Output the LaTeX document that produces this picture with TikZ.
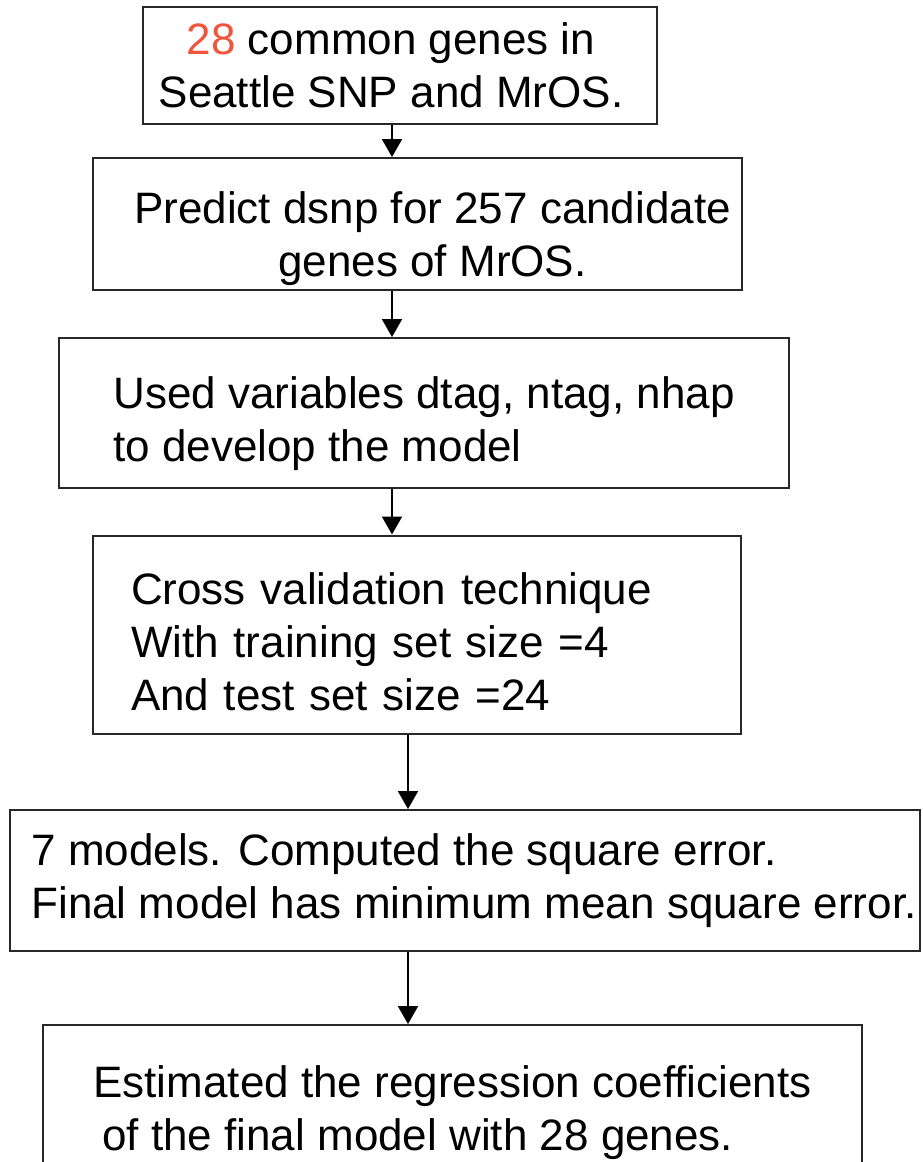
\documentclass[tikz,border=0pt]{standalone}
\usepackage{fontspec}
\setmainfont{Liberation Sans}
\usepackage{xcolor}
\usepackage{tikz}
\usetikzlibrary{arrows.meta,positioning,calc}
\definecolor{boxline}{RGB}{40, 40, 40}
\definecolor{countred}{RGB}{240, 84, 58}

\begin{document}
\begin{tikzpicture}[x=0.5pt,y=-0.5pt,
    stage/.style={draw=boxline,line width=1pt,inner sep=0pt,font=\fontsize{22}{26.5}\selectfont},
    flow/.style={-{Triangle[length=9pt,width=10pt]},line width=1pt,black}]
    \useasboundingbox (0,0) rectangle (922,1162);

    % Spines for the connectors
    \coordinate (upper) at (392,0);
    \coordinate (lower) at (408,0);

    % Stages of the analysis
    \node[stage,align=center,minimum width=257pt,minimum height=58.5pt] (seed) at (400,65.5)
        {\textcolor{countred}{28} common genes in\hspace*{9pt}\\Seattle SNP and MrOS.\hspace*{9pt}};
    \node[stage,align=center,minimum width=324.5pt,minimum height=66pt] (predict) at (417.5,224)
        {\rule{0pt}{31pt}\hspace*{15pt}Predict dsnp for 257 candidate\\\hspace*{15pt}genes of MrOS.};
    \node[stage,align=left,minimum width=365pt,minimum height=75pt] (vars) at (424,413)
        {\rule{0pt}{27pt}Used variables dtag, ntag, nhap\\to develop the model};
    \node[stage,align=left,text width=286pt,minimum width=324pt,minimum height=99pt] (crossval) at (417,634.5)
        {\rule{0pt}{23pt}Cross validation technique\\With training set size =4\\And test set size =24};
    \node[stage,align=left,minimum width=455pt,minimum height=70.5pt] (models) at (465,880.5)
        {\hspace*{9pt}7 models. Computed the square error.\\\hspace*{9pt}Final model has minimum mean square error.};
    \node[stage,align=left,minimum width=409.5pt,minimum height=83pt] (coeffs) at (452.5,1108)
        {\rule{0pt}{21pt}Estimated the regression coefficients\\\hspace{0.2em}of the final model with 28 genes.};

    % Connectors
    \draw[flow] (seed.south -| upper) -- (predict.north -| upper);
    \draw[flow] (predict.south -| upper) -- (vars.north -| upper);
    \draw[flow] (vars.south -| upper) -- (crossval.north -| upper);
    \draw[flow] (crossval.south -| lower) -- (models.north -| lower);
    \draw[flow] (models.south -| lower) -- (coeffs.north -| lower);
\end{tikzpicture}
\end{document}
